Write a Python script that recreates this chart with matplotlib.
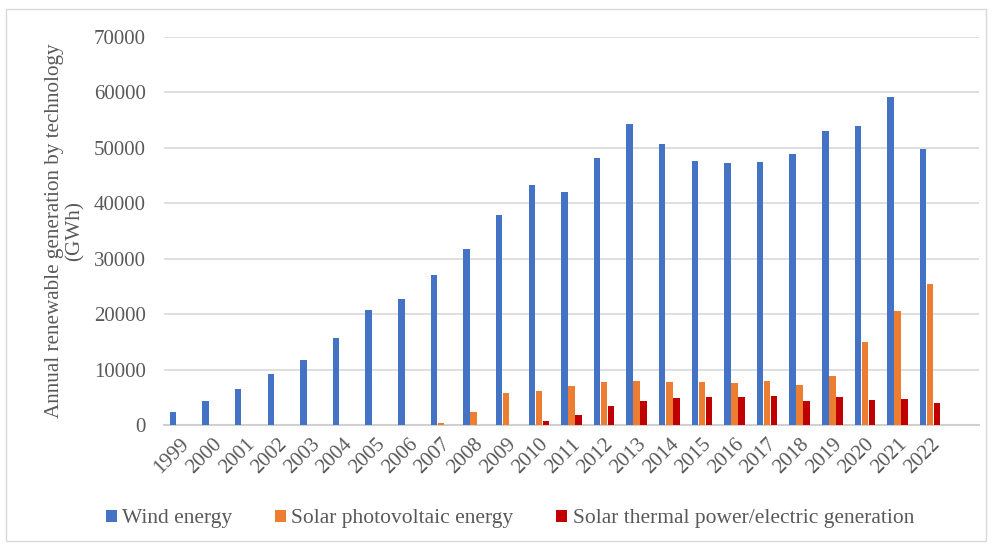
import numpy as np
import matplotlib
matplotlib.use("Agg")
import matplotlib.pyplot as plt
from matplotlib.patches import Rectangle

plt.rcParams["font.family"] = ["Liberation Serif", "DejaVu Serif"]

years = ["1999", "2000", "2001", "2002", "2003", "2004", "2005", "2006", "2007", "2008",
         "2009", "2010", "2011", "2012", "2013", "2014", "2015", "2016", "2017", "2018",
         "2019", "2020", "2021", "2022", ""]
wind = [2400, 4400, 6500, 9200, 11700, 15700, 20800, 22800, 27100, 31700,
        37900, 43200, 42000, 48100, 54200, 50600, 47600, 47200, 47400, 48900,
        53000, 53800, 59100, 49800, 0]
solar_pv = [0, 0, 0, 0, 0, 0, 0, 0, 450, 2350,
            5800, 6100, 7000, 7800, 7900, 7800, 7800, 7500, 7950, 7300,
            8800, 14900, 20500, 25500, 0]
solar_thermal = [0, 0, 0, 0, 0, 0, 0, 0, 0, 0,
                 100, 650, 1800, 3400, 4400, 4900, 5000, 5000, 5300, 4400,
                 5100, 4500, 4700, 4000, 0]

grey = "#595959"
x = np.arange(len(years))
w = 0.2
step = 0.215

fig = plt.figure(figsize=(9.92, 5.45), dpi=100)
ax = fig.add_axes([0.165, 0.22, 0.822, 0.713])

ax.bar(x - step, wind, w, color="#4472C4", label="Wind energy", zorder=3)
ax.bar(x, solar_pv, w, color="#ED7D31", label="Solar photovoltaic energy", zorder=3)
ax.bar(x + step, solar_thermal, w, color="#C00000",
       label="Solar thermal power/electric generation", zorder=3)

ax.set_xlim(-0.5, len(years) - 0.5)
ax.set_ylim(0, 70000)
ax.set_yticks(np.arange(0, 70001, 10000))
ax.yaxis.grid(True, color="#d9d9d9", linewidth=1.2, zorder=0)
ax.set_xticks(x)
ax.set_xticklabels(years, rotation=45, ha="right", rotation_mode="anchor")
ax.tick_params(axis="both", length=0, labelsize=15, colors=grey)
ax.tick_params(axis="y", pad=13)
ax.tick_params(axis="x", pad=7)

for s in ["top", "right", "left"]:
    ax.spines[s].set_visible(False)
ax.spines["bottom"].set_color("#d0d0d0")
ax.spines["bottom"].set_linewidth(1.5)

ax.set_ylabel("Annual renewable generation by technology\n(GWh)", fontsize=15.2,
              color=grey, linespacing=1.12)
ax.yaxis.set_label_coords(-0.097, 0.5)

fig.legend(loc="center", bbox_to_anchor=(0.514, 0.048), ncol=3, frameon=False,
           prop={"family": "Liberation Serif", "size": 15.5}, labelcolor=grey,
           handlelength=0.5, handleheight=0.5, handletextpad=0.25, columnspacing=2.0)

fig.patches.append(Rectangle((0.006, 0.008), 0.988, 0.975, transform=fig.transFigure,
                             fill=False, edgecolor="#d9d9d9", linewidth=1))

fig.savefig("out.png", dpi=100)
